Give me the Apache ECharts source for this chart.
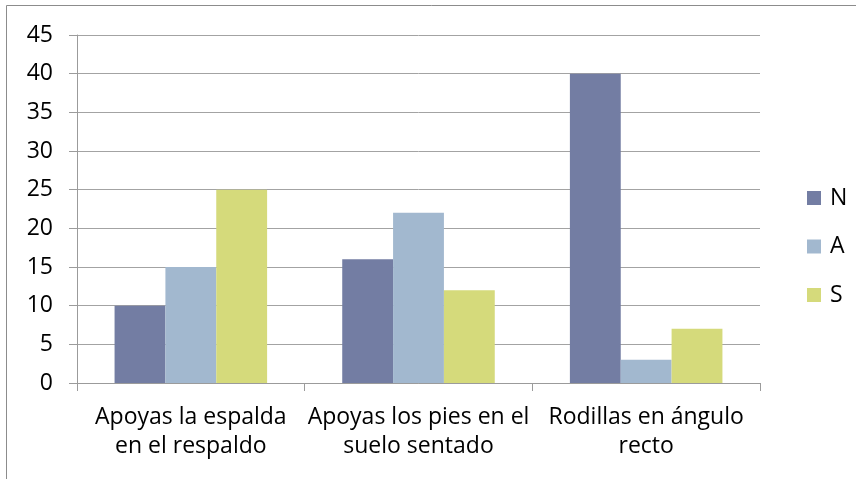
<!DOCTYPE html>
<html>
<head>
<meta charset="utf-8">
<script src="https://cdn.jsdelivr.net/npm/echarts@6/dist/echarts.min.js"></script>
<style>
  html, body { margin: 0; padding: 0; background: #ffffff; }
  #chart { width: 856px; height: 479px; }
</style>
</head>
<body>
<div id="chart"></div>
<script>
// Categories along the x axis (line breaks as shown under each group)
const categories = [
  'Apoyas la espalda\nen el respaldo',
  'Apoyas los pies en el\nsuelo sentado',
  'Rodillas en ángulo\nrecto'
];

// Series names and values per category
const seriesNames = ['N', 'A', 'S'];
const valuesN = [10, 16, 40];
const valuesA = [15, 22, 3];
const valuesS = [25, 12, 7];

// Value axis scale
const yMin = 0;
const yMax = 45;
const yStep = 5;

const colors = ['#737da3', '#a2b8cf', '#d5da7b'];
const fontFamily = '"Open Sans", sans-serif';

const chart = echarts.init(document.getElementById('chart'), null, { renderer: 'canvas' });

const makeBar = (name, data, color) => ({
  name: name,
  type: 'bar',
  data: data,
  barGap: '0%',
  barCategoryGap: '33%',
  itemStyle: { color: color },
  emphasis: { disabled: true }
});

chart.setOption({
  animation: false,
  backgroundColor: '#ffffff',
  textStyle: { fontFamily: fontFamily },
  graphic: [{
    type: 'rect',
    shape: { x: 6.5, y: 5.5, width: 900, height: 500 },
    style: { fill: 'none', stroke: '#8c8c8c', lineWidth: 1 },
    silent: true
  }],
  grid: { left: 77, right: 96, top: 35, bottom: 96 },
  legend: {
    orient: 'vertical',
    left: 802,
    top: 181,
    itemWidth: 14,
    itemHeight: 14,
    itemGap: 24.5,
    icon: 'rect',
    data: seriesNames,
    textStyle: { fontSize: 23, color: '#000000', lineHeight: 24, padding: [0, 0, 0, 4], fontFamily: fontFamily }
  },
  xAxis: {
    type: 'category',
    data: categories,
    axisLine: { show: true, lineStyle: { color: '#9b9b9b', width: 1 } },
    axisTick: { show: true, length: 8, alignWithLabel: false, lineStyle: { color: '#9b9b9b' } },
    axisLabel: {
      interval: 0,
      margin: 20,
      fontSize: 23,
      lineHeight: 29,
      color: '#000000',
      fontFamily: fontFamily
    }
  },
  yAxis: {
    type: 'value',
    min: yMin,
    max: yMax,
    interval: yStep,
    axisLine: { show: true, lineStyle: { color: '#9b9b9b', width: 1 } },
    axisTick: { show: true, length: 8, lineStyle: { color: '#9b9b9b' } },
    splitLine: { show: true, lineStyle: { color: '#a3a3a3', width: 1 } },
    axisLabel: { margin: 24, fontSize: 23, color: '#000000', fontFamily: fontFamily }
  },
  series: [
    makeBar(seriesNames[0], valuesN, colors[0]),
    makeBar(seriesNames[1], valuesA, colors[1]),
    makeBar(seriesNames[2], valuesS, colors[2])
  ]
});
</script>
</body>
</html>
